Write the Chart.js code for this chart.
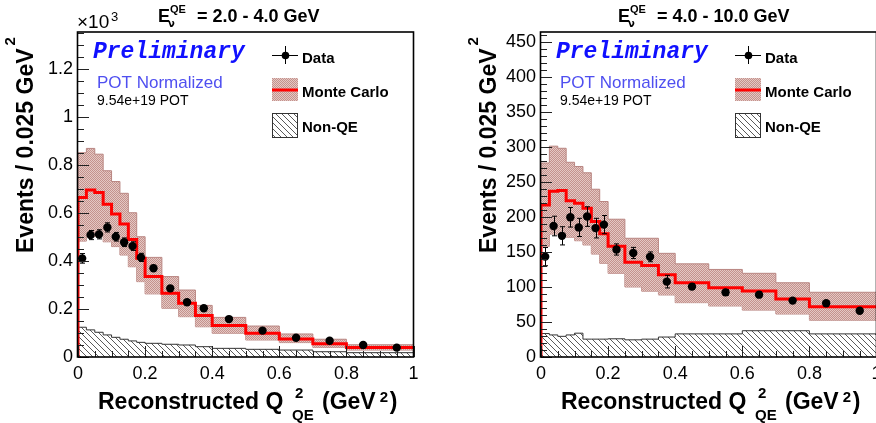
<!DOCTYPE html>
<html><head><meta charset="utf-8">
<script src="https://cdn.jsdelivr.net/npm/chart.js@4/dist/chart.umd.min.js"></script>
<style>
html,body{margin:0;padding:0;background:#fff;overflow:hidden;width:876px;height:423px;}
.p{position:absolute;top:0;width:463px;height:423px;}
#w1{left:0} #w2{left:463px}
</style></head><body>
<div class="p" id="w1"><canvas id="c1" width="463" height="423"></canvas></div>
<div class="p" id="w2"><canvas id="c2" width="463" height="423"></canvas></div>
<script>
// ---------- data ----------
const binEdges   = [0,0.025,0.05,0.075,0.1,0.125,0.15,0.175,0.2,0.25,0.3,0.35,0.4,0.5,0.6,0.7,0.8,0.9,1.0];
const binCenters = [0.0125,0.0375,0.0625,0.0875,0.1125,0.1375,0.1625,0.1875,0.225,0.275,0.325,0.375,0.45,0.55,0.65,0.75,0.85,0.95];
const xTickLabels = ['0','0.2','0.4','0.6','0.8','1'];
const lowYTickLabels = ['0','0.2','0.4','0.6','0.8','1','1.2'];
const highYTickLabels = ['0','50','100','150','200','250','300','350','400','450'];

// Panel 1 : E = 2.0 - 4.0 GeV  (units x10^3)
const lowMC     = [0.532,0.665,0.696,0.685,0.636,0.596,0.554,0.490,0.411,0.335,0.266,0.224,0.173,0.131,0.099,0.075,0.055,0.040];
const lowMCUp   = [0.703,0.851,0.869,0.845,0.776,0.731,0.682,0.601,0.501,0.415,0.335,0.279,0.215,0.165,0.129,0.096,0.074,0.051];
const lowMCDown = [0.373,0.483,0.501,0.504,0.480,0.460,0.425,0.376,0.314,0.263,0.203,0.168,0.126,0.099,0.071,0.060,0.040,0.029];
const lowNonQE  = [0.133,0.124,0.113,0.103,0.092,0.082,0.074,0.067,0.061,0.057,0.053,0.050,0.043,0.036,0.032,0.029,0.022,0.018];
const lowData   = [0.411,0.508,0.511,0.540,0.501,0.478,0.462,0.415,0.370,0.286,0.228,0.203,0.158,0.110,0.080,0.068,0.050,0.039];
const lowErr    = [0.020,0.019,0.019,0.019,0.018,0.018,0.018,0.017,0.012,0.010,0.009,0.008,0.006,0.005,0.004,0.004,0.003,0.003];

// Panel 2 : E = 4.0 - 10.0 GeV
const highMC     = [176.7,217,236.5,237.6,223,219.5,212.4,193.3,176,158,135.2,130.5,117.5,106,99,94.3,82.9,71.9];
const highMCUp   = [236,277,301,298,278,272,263,239.5,222,196.7,169.5,169.5,148,133,125,119.5,106,92.4];
const highMCDown = [119,158,175.5,175,171,166,160,147,133.8,119.5,100,94,88.6,77.6,72.9,67,61.4,52.5];
const highNonQE  = [35,33.5,31.5,29.5,31.5,34,25.5,25.5,25.5,26,24.5,25.5,28.5,33,33,37.5,37.5,33];
const highData   = [143.3,187,173,199.5,185,200.5,184,189,153.5,148.5,143,107.6,100.5,92.3,89,80.5,76.7,66.1];
const highErr    = [13,14,13,14,13,14,14,13,8,8,7,9,4,4,4,3,3,3];

// ---------- helpers ----------
const FONT = '"Liberation Sans", Arial, sans-serif';
function histPoints(vals, fromZero){
  const pts = [];
  if (fromZero) pts.push({x: binEdges[0], y: 0});
  for (let i = 0; i < vals.length; i++) pts.push({x: binEdges[i], y: vals[i]});
  pts.push({x: binEdges[binEdges.length-1], y: vals[vals.length-1]});
  return pts;
}
function hatchPattern(){
  const c = document.createElement('canvas'); c.width = 6; c.height = 6;
  const g = c.getContext('2d');
  g.strokeStyle = '#5a5a5a'; g.lineWidth = 1;
  g.beginPath();
  g.moveTo(-1,-1); g.lineTo(7,7);
  g.moveTo(-1,5); g.lineTo(1,7);
  g.moveTo(5,-1); g.lineTo(7,1);
  g.stroke();
  return g.createPattern(c, 'repeat');
}
function bandPattern(){
  const c = document.createElement('canvas'); c.width = 2; c.height = 2;
  const g = c.getContext('2d');
  g.fillStyle = '#e4c8c4'; g.fillRect(0,0,2,2);
  g.fillStyle = '#c4928d'; g.fillRect(0,0,1,1); g.fillRect(1,1,1,1);
  return g.createPattern(c, 'repeat');
}
const HATCH = hatchPattern();
const BAND = bandPattern();

function drawPanelDecor(chart, o){
  const ctx = chart.ctx;
  const ca = chart.chartArea;
  const xs = chart.scales.x, ys = chart.scales.y;
  ctx.save();
  // error bars
  ctx.strokeStyle = '#000'; ctx.lineWidth = 1;
  for (let i = 0; i < o.data.length; i++){
    const px = Math.round(xs.getPixelForValue(binCenters[i])) + 0.5;
    const y1 = ys.getPixelForValue(o.data[i] + o.err[i]);
    const y2 = ys.getPixelForValue(o.data[i] - o.err[i]);
    ctx.beginPath();
    ctx.moveTo(px, y1); ctx.lineTo(px, y2);
    ctx.moveTo(px-2.5, y1); ctx.lineTo(px+2.5, y1);
    ctx.moveTo(px-2.5, y2); ctx.lineTo(px+2.5, y2);
    ctx.stroke();
  }
  // ticks (inside)
  ctx.strokeStyle = '#222'; ctx.lineWidth = 1;
  ctx.beginPath();
  for (let v = 0; v <= o.yMax + 1e-9; v += o.yMinor){
    const py = Math.round(ys.getPixelForValue(v)) + 0.5;
    if (py < ca.top) break;
    const isMajor = Math.abs(v/o.yMajor - Math.round(v/o.yMajor)) < 1e-6;
    ctx.moveTo(ca.left, py); ctx.lineTo(ca.left + (isMajor ? 11 : 6), py);
  }
  for (let v = 0; v <= 1 + 1e-9; v += 0.05){
    const px = Math.round(xs.getPixelForValue(v)) + 0.5;
    const isMajor = Math.abs(v/0.2 - Math.round(v/0.2)) < 1e-6;
    ctx.moveTo(px, ca.bottom); ctx.lineTo(px, ca.bottom - (isMajor ? 11 : 6));
  }
  ctx.stroke();
  // frame
  ctx.strokeStyle = '#000'; ctx.lineWidth = 1.6;
  ctx.strokeRect(ca.left - 0.5, ca.top, ca.right - ca.left + 0.5, ca.bottom - ca.top);
  ctx.restore();
}

function drawTexts(chart, o){
  const ctx = chart.ctx;
  ctx.save();
  ctx.fillStyle = '#000';
  ctx.textAlign = 'left'; ctx.textBaseline = 'alphabetic';
  // title
  ctx.font = 'bold 18px ' + FONT;
  ctx.fillText('E', o.titleX, 22);
  ctx.font = 'bold 11px ' + FONT;
  ctx.fillText('QE', o.titleX + 12, 13);
  ctx.font = 'bold 10px "DejaVu Sans", sans-serif';
  ctx.fillText('\u03BD', o.titleX + 10, 27);
  ctx.font = 'bold 18px ' + FONT;
  ctx.fillText(o.title, o.titleX + 39, 22);
  // exponent
  if (o.exponent){
    ctx.font = '19px ' + FONT;
    ctx.fillText('\u00D710', 77, 28);
    ctx.font = '13px ' + FONT;
    ctx.fillText('3', 111, 21);
  }
  // y title
  ctx.save();
  ctx.translate(33, 253); ctx.rotate(-Math.PI/2);
  ctx.font = 'bold 23px ' + FONT;
  const yt = 'Events / 0.025 GeV';
  ctx.fillText(yt, 0, 0);
  const w = ctx.measureText(yt).width;
  ctx.font = 'bold 15px ' + FONT;
  ctx.fillText('2', w + 3, -18);
  ctx.restore();
  // x title
  ctx.font = 'bold 23px ' + FONT;
  ctx.fillText('Reconstructed Q', 98, 409);
  ctx.font = 'bold 15px ' + FONT;
  ctx.fillText('2', 295, 398);
  ctx.fillText('QE', 292, 420);
  ctx.font = 'bold 23px ' + FONT;
  ctx.fillText('(GeV', 322, 409);
  const gw = ctx.measureText('(GeV').width;
  ctx.font = 'bold 15px ' + FONT;
  ctx.fillText('2', 322 + gw + 4, 402);
  ctx.font = 'bold 23px ' + FONT;
  ctx.fillText(')', 322 + gw + 14, 409);
  // Preliminary block
  ctx.fillStyle = '#1010ff';
  ctx.font = 'italic bold 23px "Liberation Mono", "Courier New", monospace';
  ctx.fillText('Preliminary', 93, 58);
  ctx.fillStyle = '#4f4ff0';
  ctx.font = '17px ' + FONT;
  ctx.fillText('POT Normalized', 97, 88);
  ctx.fillStyle = '#000';
  ctx.font = '14px ' + FONT;
  ctx.fillText('9.54e+19 POT', 97, 105);
  // legend
  ctx.strokeStyle = '#000'; ctx.lineWidth = 1;
  ctx.beginPath();
  ctx.moveTo(272, 55.5); ctx.lineTo(298, 55.5);
  ctx.moveTo(285.5, 46); ctx.lineTo(285.5, 64);
  ctx.stroke();
  ctx.beginPath(); ctx.arc(285.5, 55.5, 3.8, 0, 2*Math.PI); ctx.fillStyle = '#000'; ctx.fill();
  ctx.fillStyle = BAND; ctx.fillRect(272, 78, 26, 23);
  ctx.strokeStyle = '#ff0000'; ctx.lineWidth = 3;
  ctx.beginPath(); ctx.moveTo(272, 90); ctx.lineTo(298, 90); ctx.stroke();
  ctx.fillStyle = HATCH; ctx.fillRect(272, 113, 26, 25);
  ctx.strokeStyle = '#333'; ctx.lineWidth = 1; ctx.strokeRect(272.5, 113.5, 25, 24);
  ctx.fillStyle = '#000';
  ctx.font = 'bold 15px ' + FONT;
  ctx.fillText('Data', 302, 63);
  ctx.fillText('Monte Carlo', 302, 96.5);
  ctx.fillText('Non-QE', 302, 131.5);
  ctx.restore();
}

function makeChart(id, o){
  const decor = {
    id: 'decor' + id,
    afterDatasetsDraw(chart){ drawPanelDecor(chart, o); },
    afterDraw(chart){ drawTexts(chart, o); }
  };
  return new Chart(document.getElementById(id), {
    type: 'line',
    data: {
      datasets: [
        { label: 'Data', data: binCenters.map((x,i)=>({x, y:o.data[i]})), showLine: false,
          pointRadius: 4.2, pointBackgroundColor: '#000', pointBorderColor: '#000', pointBorderWidth: 0, order: 0 },
        { label: 'Monte Carlo', data: histPoints(o.mc, true), stepped: 'after', borderColor: '#ff0000',
          borderWidth: 3, pointRadius: 0, fill: false, order: 1 },
        { label: 'MC up', data: histPoints(o.up, false), stepped: 'after', borderColor: '#b98682',
          borderWidth: 1, pointRadius: 0, fill: '+1', backgroundColor: BAND, order: 2 },
        { label: 'MC down', data: histPoints(o.down, false), stepped: 'after', borderColor: '#b98682',
          borderWidth: 1, pointRadius: 0, fill: false, order: 3 },
        { label: 'Non-QE', data: histPoints(o.nonqe, true), stepped: 'after', borderColor: '#333',
          borderWidth: 1, pointRadius: 0, fill: 'origin', backgroundColor: HATCH, order: 4 }
      ]
    },
    options: {
      responsive: false, animation: false, devicePixelRatio: 1,
      layout: { padding: { left: 0, top: 32, right: 49.5, bottom: 0 } },
      plugins: { legend: { display: false }, tooltip: { enabled: false } },
      scales: {
        x: { type: 'linear', min: 0, max: 1,
             afterFit(s){ s.height = 66; },
             ticks: { stepSize: 0.2, includeBounds: false, padding: 6, maxRotation: 0,
                      color: '#000', font: { family: FONT, size: 18 },
                      callback: (v) => xTickLabels[Math.round(v/0.2)] },
             grid: { display: false, drawTicks: false }, border: { display: false } },
        y: { type: 'linear', min: 0, max: o.yMax,
             afterFit(s){ s.width = 78; },
             ticks: { stepSize: o.yMajor, includeBounds: false, padding: 5,
                      color: '#000', font: { family: FONT, size: 18 },
                      callback: (v) => o.yLabels[Math.round(v/o.yMajor)] },
             grid: { display: false, drawTicks: false }, border: { display: false } }
      }
    },
    plugins: [decor]
  });
}

makeChart('c1', { data: lowData, err: lowErr, mc: lowMC, up: lowMCUp, down: lowMCDown, nonqe: lowNonQE,
  yMax: 1.354, yMajor: 0.2, yMinor: 0.05, yLabels: lowYTickLabels,
  title: '= 2.0 - 4.0 GeV', titleX: 158, exponent: true });
makeChart('c2', { data: highData, err: highErr, mc: highMC, up: highMCUp, down: highMCDown, nonqe: highNonQE,
  yMax: 464, yMajor: 50, yMinor: 10, yLabels: highYTickLabels,
  title: '= 4.0 - 10.0 GeV', titleX: 155, exponent: false });
</script>
</body></html>
